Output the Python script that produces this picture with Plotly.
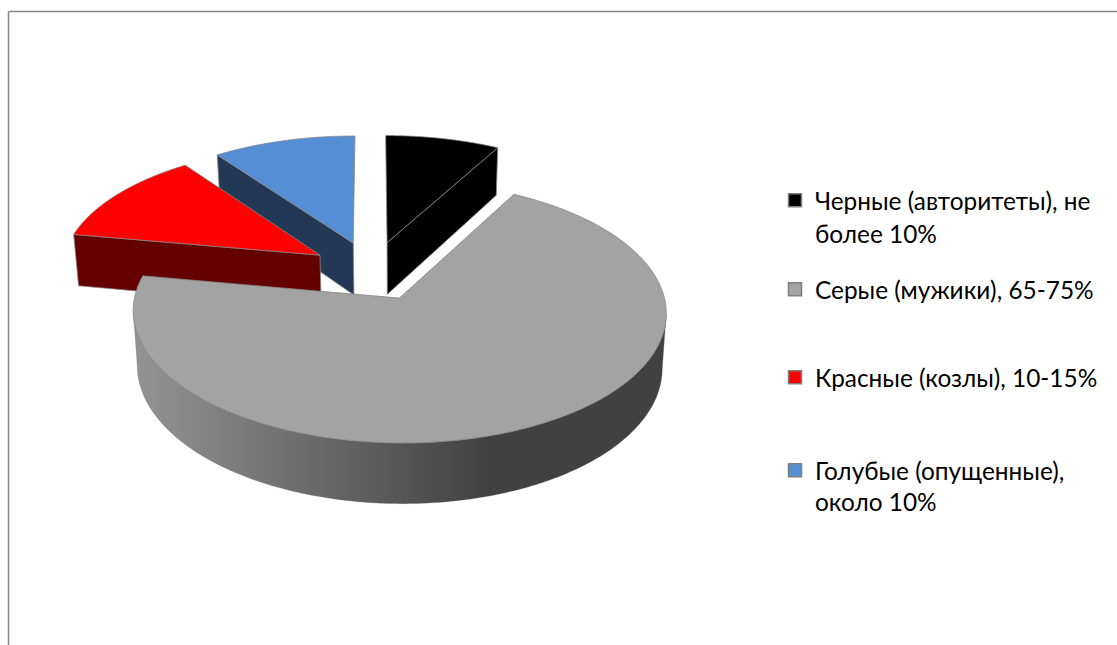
import numpy as np
import plotly.graph_objects as go

# --- data ---
names = ["Черные (авторитеты), не", "Серые (мужики), 65-75%",
         "Красные (козлы), 10-15%", "Голубые (опущенные),"]
second_lines = ["более 10%", None, None, "около 10%"]
values = [8, 69.8, 12.2, 10]
top_colors = ["#000000", "#a3a3a3", "#ff0000", "#558ed5"]
wall_colors = ["#000000", None, "#640000", "#233855"]
legend_centers = [201, 290, 378, 471]
second_centers = [233, None, None, 501]

# --- 3-D projection of the exploded pie, fixed values ---
CX, CY, R, A, K = 372.0, 270.7, 259.0, 123.7, 0.104
EXPLODE, DEPTH, SHRINK = 0.24, 53.0, 0.985
VX = 400.0
W, H = 1117, 645

def project(u, v, low=False):
    s = 1.0 / (1.0 + K * v)
    x = CX + R * u * s
    y = CY - A * v * s
    if low:
        x = VX + (x - VX) * SHRINK
        y = y + DEPTH * s
    return x, y

def offset(mid):
    return EXPLODE * np.sin(mid), EXPLODE * np.cos(mid)

def rim(start, end, mid, low=False, n=160):
    ou, ov = offset(mid)
    th = np.linspace(start, end, n)
    return project(ou + np.sin(th), ov + np.cos(th), low)

def edge(angle, mid, low=False):
    ou, ov = offset(mid)
    return project(np.array([ou, ou + np.sin(angle)]), np.array([ov, ov + np.cos(angle)]), low)

def poly(fig, x, y, fill, line=None, width=1.0, **kw):
    fig.add_trace(go.Scatter(x=list(x), y=list(y), mode="lines", fill="toself", fillcolor=fill,
                             line=dict(color=line or fill, width=width, simplify=False), hoverinfo="skip",
                             showlegend=False, **kw))

# slice angles, clockwise from 12 o'clock
fr = np.array(values) / sum(values) * 2 * np.pi
stops = np.concatenate([[0], np.cumsum(fr)])
starts, ends = stops[:-1], stops[1:]
mids = (starts + ends) / 2

fig = go.Figure()
OUTLINE = "#858585"

def radial_wall(i, angle):
    tx, ty = edge(angle, mids[i])
    bx, by = edge(angle, mids[i], True)
    poly(fig, [tx[0], tx[1], bx[1], bx[0], tx[0]], [ty[0], ty[1], by[1], by[0], ty[0]],
         wall_colors[i], OUTLINE, 0.8)

def top(i):
    rx, ry = rim(starts[i], ends[i], mids[i])
    tx, ty = edge(starts[i], mids[i])
    poly(fig, [tx[0], *rx, tx[0]], [ty[0], *ry, ty[0]], top_colors[i], OUTLINE, 0.8)

# blue
radial_wall(3, starts[3])
top(3)
# red
radial_wall(2, starts[2])
top(2)
# black
radial_wall(0, ends[0])
top(0)

# gray: outer wall between the two silhouette points, with a left-to-right shade, then top
tx, ty = rim(starts[1], ends[1], mids[1], n=400)
bx, by = rim(starts[1], ends[1], mids[1], True, n=400)
i0, i1 = int(np.argmax(tx)), int(np.argmin(tx))
wx = [*tx[i0:i1 + 1], *bx[i0:i1 + 1][::-1], tx[i0]]
wy = [*ty[i0:i1 + 1], *by[i0:i1 + 1][::-1], ty[i0]]
stop = (490 - min(wx)) / (max(wx) - min(wx))
fig.add_trace(go.Scatter(x=wx, y=wy, mode="lines", fill="toself",
                         line=dict(width=0.5, color="rgba(90,90,90,0.5)", simplify=False),
                         fillgradient=dict(type="horizontal",
                                           colorscale=[[0, "#949494"], [stop, "#414141"], [1, "#414141"]]),
                         hoverinfo="skip", showlegend=False))
top(1)

# legend entries, one legend each so that they sit where the reference has them
LEGEND_FONT = dict(family="Lato, 'Open Sans', sans-serif", size=24.4, color="#000000")
layout_legends = {}
annotations = []
for i, nm in enumerate(names):
    key = "legend" if i == 0 else f"legend{i + 1}"
    fig.add_trace(go.Scatter(x=[None], y=[None], mode="markers", name=nm,
                             marker=dict(symbol="square", size=13, color=top_colors[i],
                                         line=dict(color="#7f7f7f", width=1.5)),
                             legend=key))
    layout_legends[key] = dict(x=775 / W, y=1 - (legend_centers[i] - 23) / H, xanchor="left", yanchor="top",
                               bgcolor="rgba(0,0,0,0)", borderwidth=0, itemclick=False, font=LEGEND_FONT)
    if second_lines[i]:
        annotations.append(dict(x=813, y=second_centers[i], xref="x", yref="y", text=second_lines[i],
                                showarrow=False, xanchor="left", yanchor="middle", font=LEGEND_FONT))

fig.update_layout(
    width=W, height=H, margin=dict(l=0, r=0, t=0, b=0), paper_bgcolor="white", plot_bgcolor="white",
    xaxis=dict(range=[0, W], visible=False, fixedrange=True),
    yaxis=dict(range=[H, 0], visible=False, fixedrange=True),
    annotations=annotations,
    shapes=[
        dict(type="line", xref="x", yref="y", x0=8.5, x1=8.5, y0=11.5, y1=H, line=dict(color="#868686", width=1.5)),
        dict(type="line", xref="x", yref="y", x0=8.5, x1=W, y0=11.5, y1=11.5, line=dict(color="#868686", width=1.5)),
    ],
    **layout_legends,
)
fig.write_html("out.html", config={"displayModeBar": False}, post_script="document.body.style.margin='0';")
